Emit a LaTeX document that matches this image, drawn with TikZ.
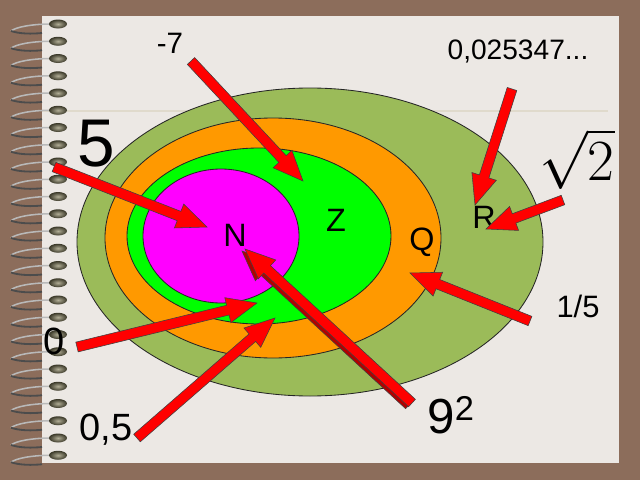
\documentclass[tikz,border=0pt]{standalone}
\usepackage{fontspec}
\setmainfont{Liberation Sans}
\usetikzlibrary{calc}
\definecolor{frame}{RGB}{140,109,91}
\definecolor{paper}{RGB}{236,232,228}
\definecolor{ruling}{RGB}{224,218,204}
\definecolor{bead}{RGB}{58,56,40}
\definecolor{beadlight}{RGB}{178,174,150}
\definecolor{setR}{RGB}{155,187,89}
\definecolor{setQ}{RGB}{255,153,0}
\definecolor{setZ}{RGB}{0,255,0}
\definecolor{setN}{RGB}{255,0,255}
\newcommand{\shaftw}{0.125cm}
\newcommand{\headw}{0.32cm}
\newcommand{\headl}{0.75cm}
\newcommand{\fatarrow}[3][]{%
  \coordinate (fa base) at ($(#3)!\headl!(#2)$);
  \filldraw[fat arrow, #1] ($(#2)!\shaftw!90:(#3)$) -- ($(fa base)!\shaftw!90:(#3)$)
    -- ($(fa base)!\headw!90:(#3)$) -- (#3) -- ($(fa base)!\headw!-90:(#3)$)
    -- ($(fa base)!\shaftw!-90:(#3)$) -- ($(#2)!\shaftw!-90:(#3)$) -- cycle;}
\tikzset{set/.style = {draw = black!85, line width = 0.6pt},
         fat arrow/.style = {fill = red, draw = black!75, line width = 0.4pt},
         num/.style = {font = \fontsize{21}{24}\selectfont, inner sep = 0pt},
         setname/.style = {font = \fontsize{23}{26}\selectfont, inner sep = 0pt},
         wire light/.style = {draw = gray!55, line width = 1.1pt},
         wire dark/.style = {draw = black!70, line width = 1.3pt}}

\begin{document}
\begin{tikzpicture}[x = 0.025cm, y = -0.025cm]
  \useasboundingbox (0,0) rectangle (640,480);
  \fill[frame] (0,0) rectangle (640,480);
  \fill[paper] (42,16) rectangle (619,463);
  \draw[ruling, line width = 0.8pt] (42,111) -- (608,111);

  \foreach \i in {0,...,25}{
    \pgfmathsetmacro{\yy}{24+17.25*\i}
    \draw[wire light] (52,\yy) .. controls (32,\yy) and (16,\yy+3) .. (11,\yy+7);
    \draw[wire dark] (11,\yy+7) .. controls (20,\yy+10) and (32,\yy+10) .. (42,\yy+9);
    \shade[inner color = beadlight, outer color = bead] (58,\yy) ellipse [x radius = 9, y radius = 4.5];
  }

  \draw[set, fill = setR] (310,242) ellipse [x radius = 233, y radius = 154];
  \draw[set, fill = setQ] (273,238) ellipse [x radius = 168, y radius = 120];
  \draw[set, fill = setZ] (259,236) ellipse [x radius = 132, y radius = 88];
  \draw[set, fill = setN] (221,236) ellipse [x radius = 78, y radius = 67];

  \node[setname] (N) at (235,235) {N};
  \node[setname] (Z) at (336,220) {Z};
  \node[setname] (Q) at (422,242) {Q};
  \node[setname] (R) at (484,217) {R};

  \node[num]                                          (minusseven) at (170,43)  {-7};
  \node[num, font = \fontsize{20}{23}\selectfont]     (decimal)    at (518,51)  {0,025347...};
  \node[num, font = \fontsize{48}{52}\selectfont]     (five)       at (96,144)  {5};
  \node[num, font = \fontsize{20}{24}\selectfont, scale = 2] (root) at (577,159) {$\sqrt{2}$};
  \node[num, font = \fontsize{22}{25}\selectfont]     (fifth)      at (578,306) {1/5};
  \node[num, font = \fontsize{27}{30}\selectfont]     (zero)       at (54,341)  {0};
  \node[num, font = \fontsize{27}{30}\selectfont]     (half)       at (106,430) {0,5};
  \node[num, font = \fontsize{35}{38}\selectfont]     (nine)       at (451,415) {9\textsuperscript{2}};

  \coordinate (s7) at (191,61);  \coordinate (t7) at (303,181);
  \coordinate (sd) at (512,89);  \coordinate (td) at (475,205);
  \coordinate (sr) at (563,200); \coordinate (tr) at (486,229);
  \coordinate (s5) at (54,167);  \coordinate (t5) at (207,227);
  \coordinate (sf) at (530,321); \coordinate (tf) at (410,273);
  \coordinate (sn) at (412,403); \coordinate (tn) at (245,249);
  \coordinate (sz) at (77,347);  \coordinate (tz) at (257,303);
  \coordinate (sh) at (137,438); \coordinate (th) at (275,318);
  \coordinate (sn2) at (409,405); \coordinate (tn2) at (242,251);

  \fatarrow{s7}{t7}
  \fatarrow{sd}{td}
  \fatarrow{sr}{tr}
  \fatarrow{s5}{t5}
  \fatarrow{sf}{tf}
  \fatarrow[fill = red!70!black]{sn2}{tn2}
  \fatarrow{sn}{tn}
  \fatarrow{sz}{tz}
  \fatarrow{sh}{th}
\end{tikzpicture}
\end{document}
